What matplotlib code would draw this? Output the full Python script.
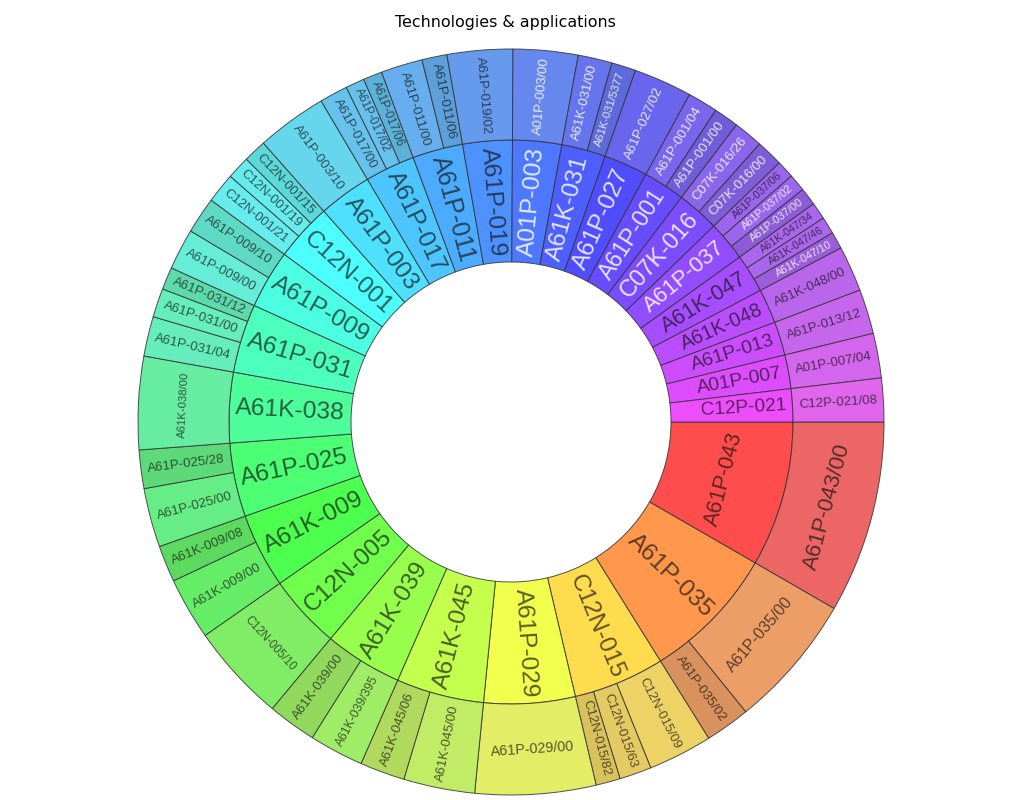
import colorsys
import numpy as np
import matplotlib
matplotlib.use("Agg")
import matplotlib.pyplot as plt
from matplotlib.textpath import TextPath
from matplotlib.font_manager import FontProperties

# ---------------- data ----------------
parent_labels = [
    "A61P-043", "A61P-035", "C12N-015", "A61P-029", "A61K-045", "A61K-039",
    "C12N-005", "A61K-009", "A61P-025", "A61K-038", "A61P-031", "A61P-009",
    "C12N-001", "A61P-003", "A61P-017", "A61P-011", "A61P-019", "A01P-003",
    "A61K-031", "A61P-027", "A61P-001", "C07K-016", "A61P-037", "A61K-047",
    "A61K-048", "A61P-013", "A01P-007", "C12P-021",
]

child_labels = [
    "A61P-043/00",
    "A61P-035/00", "A61P-035/02",
    "C12N-015/09", "C12N-015/63", "C12N-015/82",
    "A61P-029/00",
    "A61K-045/00", "A61K-045/06",
    "A61K-039/395", "A61K-039/00",
    "C12N-005/10",
    "A61K-009/00", "A61K-009/08",
    "A61P-025/00", "A61P-025/28",
    "A61K-038/00",
    "A61P-031/04", "A61P-031/00", "A61P-031/12",
    "A61P-009/00", "A61P-009/10",
    "C12N-001/21", "C12N-001/19", "C12N-001/15",
    "A61P-003/10",
    "A61P-017/00", "A61P-017/02", "A61P-017/06",
    "A61P-011/00", "A61P-011/06",
    "A61P-019/02",
    "A01P-003/00",
    "A61K-031/00", "A61K-031/5377",
    "A61P-027/02",
    "A61P-001/04", "A61P-001/00",
    "C07K-016/26", "C07K-016/00",
    "A61P-037/06", "A61P-037/02", "A61P-037/00",
    "A61K-047/34", "A61K-047/46", "A61K-047/10",
    "A61K-048/00",
    "A61P-013/12",
    "A01P-007/04",
    "C12P-021/08",
]

child_values = [
    30.0,
    21.0, 7.0,
    10.0, 5.0, 3.8,
    18.8,
    11.1, 7.0,
    8.5, 7.6,
    15.3,
    9.7, 5.7,
    9.2, 6.0,
    14.5,
    6.2, 4.5, 3.5,
    6.4, 5.7,
    4.7, 3.6, 3.6,
    11.0,
    4.4, 2.95, 2.95,
    6.5, 3.9,
    10.2,
    10.1,
    5.3, 3.8,
    9.1,
    4.7, 3.9,
    4.6, 4.2,
    2.73, 2.73, 2.74,
    2.67, 2.67, 2.66,
    7.1,
    6.95,
    6.95,
    6.8,
]

child_parents = [c.split("/")[0] for c in child_labels]
parent_values = [sum(v for v, p in zip(child_values, child_parents) if p == lab)
                 for lab in parent_labels]

title = "Technologies & applications"

# ---------------- styles ----------------
white_text = {
    "A01P-003", "A61K-031", "A61P-027", "A61P-001", "C07K-016", "A61P-037",
    "A01P-003/00", "A61K-031/00", "A61K-031/5377", "A61P-027/02",
    "A61P-001/04", "A61P-001/00", "C07K-016/26", "C07K-016/00",
    "A61P-037/02", "A61P-037/00", "A61K-047/10",
}
tangential = {"A61P-043", "A61P-043/00", "A61P-035/00", "A61P-029/00",
              "C12N-005/10", "A61K-038/00"}

W, H, DPI = 1024, 800, 100
CX, CY = 511, 422
R_HOLE, R_MID, R_OUT = 160, 282, 373

fig = plt.figure(figsize=(W / DPI, H / DPI), dpi=DPI)
ax = fig.add_axes([0, 0, 1, 1])

total = float(sum(parent_values))
starts = np.concatenate([[0.0], np.cumsum(parent_values)[:-1]]) / total
parent_hue = {lab: s * 5.0 / 6.0 for lab, s in zip(parent_labels, starts)}
parent_colors = [colorsys.hsv_to_rgb(parent_hue[l], 0.70, 1.0) for l in parent_labels]

child_colors = []
for i, (c, p) in enumerate(zip(child_labels, child_parents)):
    siblings = [x for x, q in zip(child_labels, child_parents) if q == p]
    dark = len(siblings) > 1 and siblings[-1] == c
    v = 0.85 if dark else 0.93
    if p == "C12N-015" and c == "C12N-015/63":
        v = 0.89
    child_colors.append(colorsys.hsv_to_rgb(parent_hue[p], 0.57, v))

edge = (0.2, 0.2, 0.2, 0.85)
w_in, _ = ax.pie(parent_values, radius=R_MID, startangle=0, counterclock=False,
                 colors=parent_colors,
                 wedgeprops=dict(width=R_MID - R_HOLE, edgecolor=edge, linewidth=0.7))
w_out, _ = ax.pie(child_values, radius=R_OUT, startangle=0, counterclock=False,
                  colors=child_colors,
                  wedgeprops=dict(width=R_OUT - R_MID, edgecolor=edge, linewidth=0.7))

ax.set_xlim(-CX, W - CX)
ax.set_ylim(-(H - CY), CY)
ax.set_aspect("equal")
ax.axis("off")

fp = FontProperties(family="Liberation Sans")


def em_width(s):
    tp = TextPath((0, 0), s, size=100, prop=fp)
    return tp.get_extents().width / 100.0


def norm(a):
    return (a + 180.0) % 360.0 - 180.0


def radial_fit(em, r_in, r_out, span):
    pad = 7.0
    t = np.tan(np.radians(span) / 2)
    best, rc_best = 4.0, (r_in + r_out) / 2
    for s in np.arange(4.0, 40.0, 0.1):
        L = em * s
        if L + 2 * pad > r_out - r_in:
            break
        rc = r_out - pad - L / 2
        if 1.45 * s <= 2 * rc * t:
            best, rc_best = s, rc
    return best, rc_best


def tangential_fit(em, r_in, r_out, span):
    t = np.tan(np.radians(span) / 2)
    best = 4.0
    for s in np.arange(4.0, 60.0, 0.1):
        w2 = em * s / 2
        h2 = 0.45 * s
        lo = max(r_in + h2, w2 / t + h2)
        hi = np.sqrt(max(r_out ** 2 - w2 ** 2, 0)) - h2
        if lo <= hi:
            best = s
    return best * 0.72, (r_in + r_out) / 2


def label(wedge, text, r_in, r_out):
    mid = (wedge.theta1 + wedge.theta2) / 2.0
    span = wedge.theta2 - wedge.theta1
    em = em_width(text)
    if text in tangential:
        s, rc = tangential_fit(em, r_in, r_out, span)
        rot = norm(mid - 90)
        if rot > 90 or rot < -90:
            rot = norm(rot + 180)
    else:
        s, rc = radial_fit(em, r_in, r_out, span)
        rot = norm(mid)
        if rot > 90 or rot < -90:
            rot = norm(rot + 180)
    x = rc * np.cos(np.radians(mid))
    y = rc * np.sin(np.radians(mid))
    if text in white_text:
        col, al = "white", 0.85
    else:
        col, al = "#111111", 0.68
    ax.text(x, y, text, rotation=rot, rotation_mode="anchor", ha="center",
            va="center", fontsize=s * 72.0 / DPI, family="Liberation Sans",
            color=col, alpha=al)


for wdg, lab in zip(w_in, parent_labels):
    label(wdg, lab, R_HOLE, R_MID)
for wdg, lab in zip(w_out, child_labels):
    label(wdg, lab, R_MID, R_OUT)

fig.text(505 / W, 1 - 23 / H, title, ha="center", va="center", fontsize=11.4,
         family="DejaVu Sans")

fig.savefig("out.png", dpi=DPI)
